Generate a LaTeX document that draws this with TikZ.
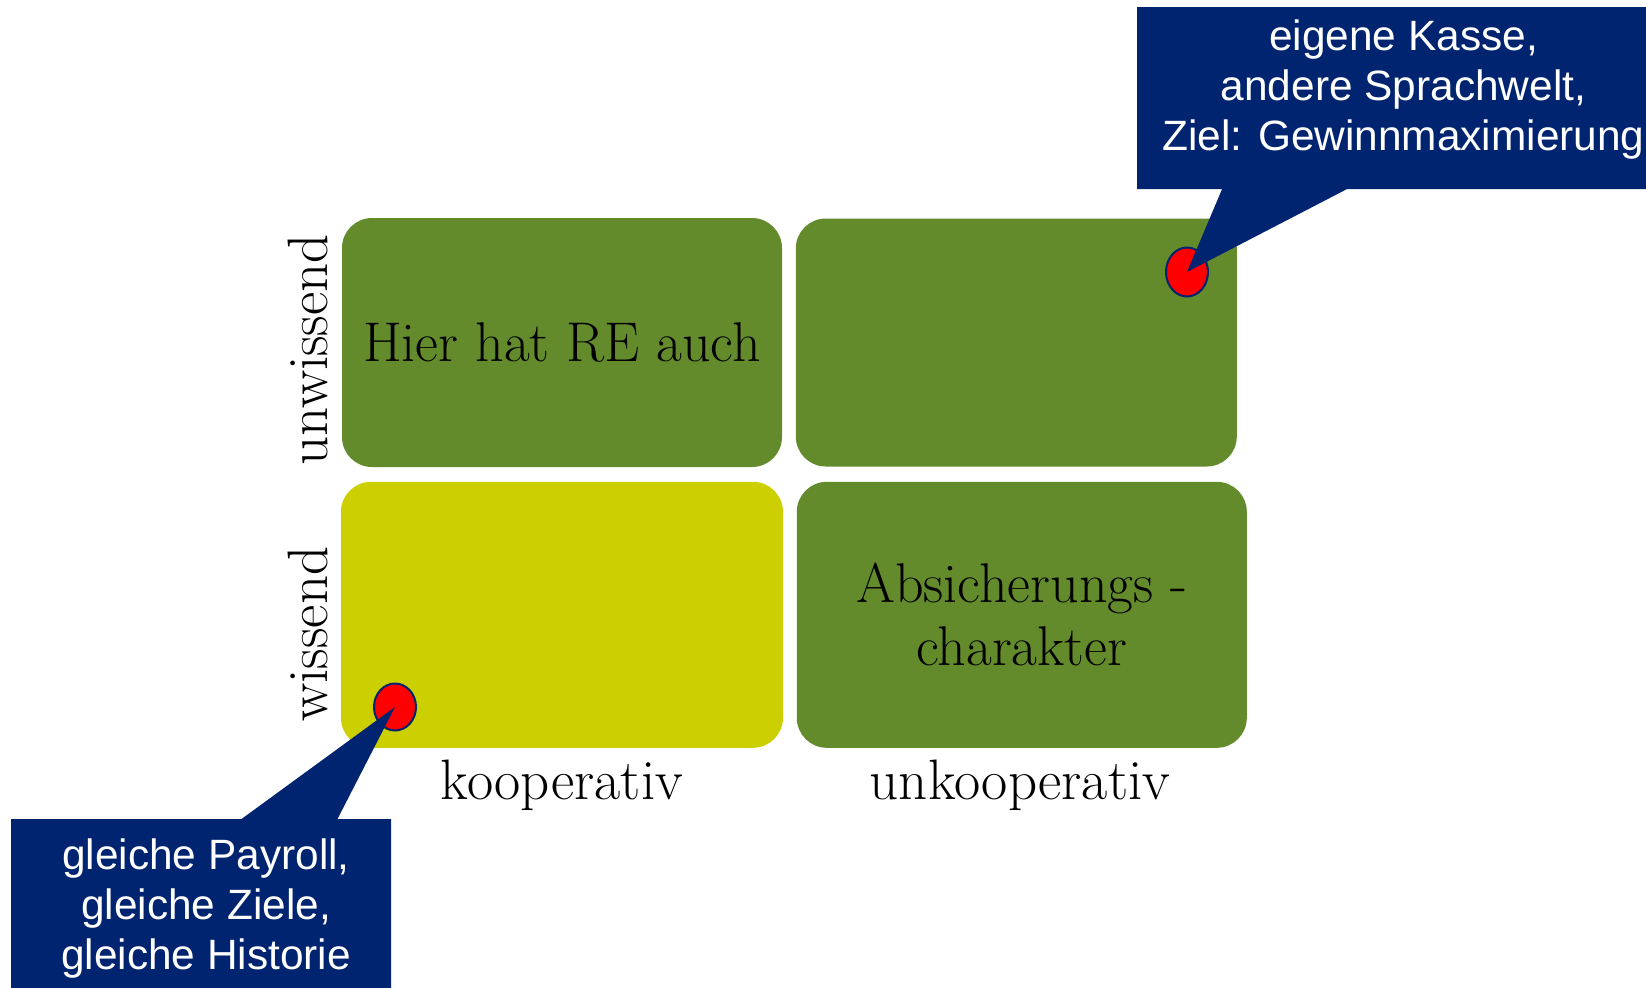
\documentclass[tikz,border=0pt]{standalone}
\usepackage{fontspec}
\usepackage{tikz}
\usetikzlibrary{positioning,shapes.geometric,shapes.callouts}
\newfontfamily\calloutfont{Liberation Sans}
\definecolor{fieldgreen}{RGB}{99,139,44}
\definecolor{fieldyellow}{RGB}{204,208,0}
\definecolor{notenavy}{RGB}{0,36,111}
\definecolor{dotred}{RGB}{255,0,0}

\begin{document}
\begin{tikzpicture}[x=0.5pt, y=-0.5pt,
    field/.style={rounded corners=15pt, fill=fieldgreen, align=center, inner sep=0pt, font=\fontsize{28}{31.5}\selectfont},
    axislabel/.style={inner sep=0pt, font=\fontsize{28.5}{30}\selectfont},
    note/.style={rectangle callout, fill=notenavy, inner sep=0pt},
    notetext/.style={text=white, align=center, inner sep=0pt, font=\calloutfont\fontsize{21.2}{25}\selectfont},
    marker/.style={ellipse, fill=dotred, draw=notenavy, line width=1pt, inner sep=0pt}]
  \clip (0,0) rectangle (1646,987);
  % four fields
  \node[field, minimum width=220pt, minimum height=124.5pt] (unwkoop) at (562,342.5) {Hier hat RE auch};
  \node[field, minimum width=220.5pt, minimum height=124pt, right=6.5pt of unwkoop] (unwunkoop) {};
  \node[field, fill=fieldyellow, minimum width=221pt, minimum height=133pt, below=7pt of unwkoop] (wiskoop) {};
  \node[field, minimum width=225pt, minimum height=133pt, right=6.5pt of wiskoop] (wisunkoop) {Absicherungs -\\charakter};
  % axis labels
  \node[axislabel, rotate=90, anchor=base] (lblunw) at (327,350) {unwissend};
  \node[axislabel, rotate=90, anchor=base] (lblwis) at (327,634) {wissend};
  \node[axislabel, anchor=base] (lblkoop) at (562,799) {kooperativ};
  \node[axislabel, anchor=base] (lblunkoop) at (1020,799) {unkooperativ};
  % markers
  \node[marker, minimum width=21pt, minimum height=24.5pt] (dottop) at (1187,272) {};
  \node[marker, minimum width=21pt, minimum height=23.5pt] (dotbot) at (395,707) {};
  % callouts
  \node[note, minimum width=254.5pt, minimum height=91pt, callout absolute pointer={(dottop.center)}, callout pointer width=62.5pt] (notetop) at (1391.5,98) {};
  \node[notetext] (notetoptext) at ([xshift=6pt,yshift=4pt]notetop.center) {eigene Kasse,\\andere Sprachwelt,\\Ziel: Gewinnmaximierung};
  \node[note, minimum width=190pt, minimum height=94pt, callout absolute pointer={(dotbot.center)}, callout pointer width=48pt] (notebot) at (201,913) {};
  \node[notetext] (notebottext) at ([xshift=2.5pt,yshift=2pt]notebot.center) {gleiche Payroll,\\gleiche Ziele,\\gleiche Historie};
\end{tikzpicture}
\end{document}
